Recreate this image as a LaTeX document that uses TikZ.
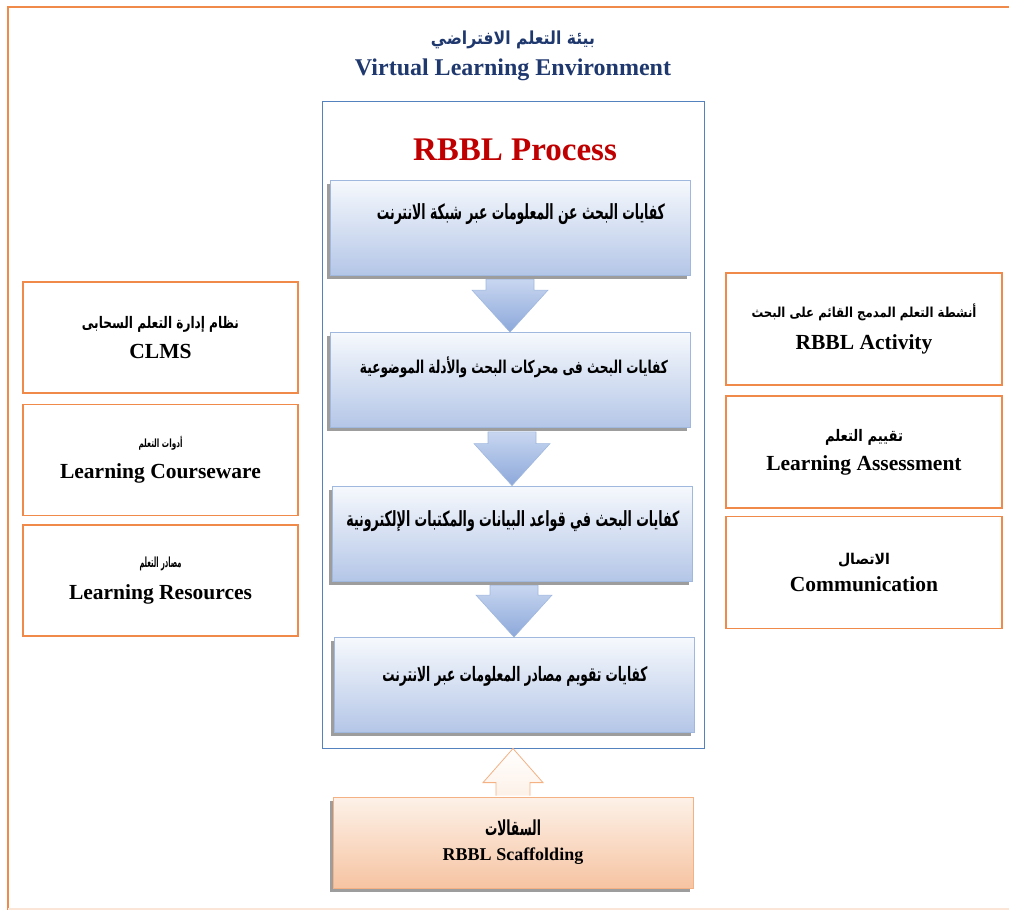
\documentclass[tikz,border=0pt]{standalone}
\usepackage{fontspec}
\usepackage{graphicx}
\setmainfont{Liberation Serif}
\newfontfamily\arabicfont[Script=Arabic]{DejaVu Sans}
\TeXXeTstate=1
\usetikzlibrary{calc,shadows}
\newcommand\arw[3]{\resizebox*{#1}{#2}{\arabicfont\bfseries #3}}
\definecolor{orangeline}{RGB}{240,138,75}
\definecolor{faintline}{RGB}{251,229,214}
\definecolor{navy}{RGB}{31,56,110}
\definecolor{titlered}{RGB}{192,0,0}
\definecolor{frameblue}{RGB}{84,130,190}
\definecolor{steptop}{RGB}{246,249,253}
\definecolor{stepbot}{RGB}{180,198,231}
\definecolor{stepline}{RGB}{160,184,222}
\definecolor{arrtop}{RGB}{200,214,240}
\definecolor{arrbot}{RGB}{140,168,218}
\definecolor{peachtop}{RGB}{253,241,232}
\definecolor{peachbot}{RGB}{246,196,162}
\definecolor{peachline}{RGB}{244,177,131}
\tikzset{
  outerline/.style={draw=orangeline,line width=2.5pt},
  obox/.style={draw=orangeline,line width=1.6pt,fill=white,minimum width=275,minimum height=111,align=center,inner sep=0pt},
  stepbox/.style={draw=stepline,line width=0.8pt,top color=steptop,bottom color=stepbot,minimum width=360,minimum height=95,
     drop shadow={shadow xshift=-3.5pt,shadow yshift=-3.5pt,fill=black!70,opacity=0.55}},
  downarrow/.style={draw=stepline,line width=0.6pt,top color=arrtop,bottom color=arrbot},
}
\newcommand\en[1]{{\fontsize{21.5}{24}\bfseries\selectfont #1}}
\begin{document}
\begin{tikzpicture}[x=1pt,y=-1pt]
\useasboundingbox (0,0) rectangle (1009,910);
% outer frame
\draw[outerline] (1009,7) -- (8,7) -- (8,910);
\draw[faintline,line width=2pt] (8,909) -- (1009,909);
% titles
\node (tar) at (513,40) {\color{navy}\arw{164pt}{18pt}{\beginR بيئة التعلم الافتراضي\endR}};
\node[text=navy,font=\bfseries\fontsize{24}{28}\selectfont] (ten) at (513,70) {Virtual Learning Environment};
% blue frame
\node[draw=frameblue,line width=1pt,minimum width=382,minimum height=647] (vle) at (513,424.5) {};
\node[text=titlered,font=\bfseries\fontsize{33}{36}\selectfont] (rbbl) at (515,150) {RBBL Process};
% step boxes
\node[stepbox] (s1) at (510,227.5) {};
\node[stepbox] (s2) at (510,380) {};
\node[stepbox] (s3) at (512,533.5) {};
\node[stepbox] (s4) at (514,685) {};
\node (t1) at (521,214) {\arw{288pt}{21pt}{\beginR كفايات البحث عن المعلومات عبر شبكة الانترنت\endR}};
\node (t2) at (514,367) {\arw{308pt}{21pt}{\beginR كفايات البحث فى محركات البحث والأدلة الموضوعية\endR}};
\node (t3) at (513,521) {\arw{333pt}{21pt}{\beginR كفايات البحث في قواعد البيانات والمكتبات الإلكترونية\endR}};
\node (t4) at (515,676) {\arw{265pt}{20pt}{\beginR كفايات تقويم مصادر المعلومات عبر الانترنت\endR}};
% down arrows
\foreach \a/\b in {s1/s2,s2/s3,s3/s4}{
  \path[downarrow] let \p1=(\a.south), \p2=(\b.north) in
    (\x2-24pt,\y1-4pt) -- (\x2+24pt,\y1-4pt) -- (\x2+24pt,\y2+42pt) -- (\x2+38pt,\y2+42pt) -- (\p2)
    -- (\x2-38pt,\y2+42pt) -- (\x2-24pt,\y2+42pt) -- cycle;
}
% left boxes
\node[obox] (l1) at (160.5,337.5) {\arw{157pt}{16pt}{\beginR نظام إدارة التعلم السحابى\endR}\\[11pt]\en{CLMS}};
\node[obox] (l2) at (160.5,460) {\arw{44pt}{14pt}{\beginR أدوات التعلم\endR}\\[12pt]\en{Learning Courseware}};
\node[obox] (l3) at (160.5,580.5) {\arw{42pt}{14pt}{\beginR مصادر التعلم\endR}\\[13pt]\en{Learning Resources}};
% right boxes
\node[obox,minimum width=276,minimum height=112] (r1) at (864,329) {\arw{225pt}{17pt}{\beginR أنشطة التعلم المدمج القائم على البحث\endR}\\[12pt]\en{RBBL Activity}};
\node[obox,minimum width=276,minimum height=112] (r2) at (864,452) {\arw{78pt}{16pt}{\beginR تقييم التعلم\endR}\\[9pt]\en{Learning Assessment}};
\node[obox,minimum width=276,minimum height=112] (r3) at (864,572.5) {\arw{52pt}{14pt}{\beginR الاتصال\endR}\\[9pt]\en{Communication}};
% bottom scaffolding box
\node[draw=peachline,line width=0.8pt,top color=peachtop,bottom color=peachbot,minimum width=360,minimum height=91,align=center,
      drop shadow={shadow xshift=-3.5pt,shadow yshift=-3.5pt,fill=black!70,opacity=0.55}] (sc) at (513,842.5)
      {\arw{56pt}{16pt}{\beginR السقالات\endR}\\[11pt]{\fontsize{18}{22}\bfseries\selectfont RBBL Scaffolding}};
% up arrow
\path[draw=peachline,line width=0.8pt,top color=white,bottom color=peachtop]
  ($(sc.north)+(-17,-1)$) -- ($(sc.north)+(-17,-14)$) -- ($(sc.north)+(-30,-14)$) -- (vle.south)
  -- ($(sc.north)+(30,-14)$) -- ($(sc.north)+(17,-14)$) -- ($(sc.north)+(17,-1)$);
\end{tikzpicture}
\end{document}
